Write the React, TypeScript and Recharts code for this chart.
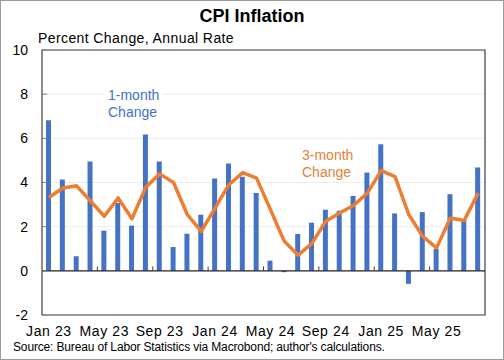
import { ComposedChart, Bar, Line, XAxis, YAxis, CartesianGrid, ReferenceLine, ReferenceArea } from 'recharts'

const months = [
  'Jan 23', 'Feb 23', 'Mar 23', 'Apr 23', 'May 23', 'Jun 23', 'Jul 23', 'Aug 23', 'Sep 23', 'Oct 23', 'Nov 23', 'Dec 23',
  'Jan 24', 'Feb 24', 'Mar 24', 'Apr 24', 'May 24', 'Jun 24', 'Jul 24', 'Aug 24', 'Sep 24', 'Oct 24', 'Nov 24', 'Dec 24',
  'Jan 25', 'Feb 25', 'Mar 25', 'Apr 25', 'May 25', 'Jun 25', 'Jul 25', 'Aug 25',
]

// 1-month change, annualized (bars)
const oneMonth = [
  6.82, 4.14, 0.66, 4.95, 1.82, 3.07, 2.05, 6.17, 4.95, 1.08, 1.68, 2.54,
  4.18, 4.86, 4.26, 3.53, 0.46, -0.06, 1.67, 2.18, 2.77, 2.72, 3.39, 4.45,
  5.73, 2.6, -0.59, 2.66, 1.0, 3.47, 2.3, 4.68,
]

// 3-month change, annualized (line)
const threeMonth = [
  3.32, 3.75, 3.85, 3.16, 2.47, 3.3, 2.36, 3.79, 4.39, 4.0, 2.54, 1.79,
  2.84, 3.9, 4.45, 4.2, 2.77, 1.34, 0.71, 1.24, 2.25, 2.62, 2.96, 3.52,
  4.54, 4.27, 2.54, 1.56, 1.04, 2.39, 2.28, 3.52,
]

const yTicks = [-2, 0, 2, 4, 6, 8, 10]

const data = months.map((m, i) => ({ month: m, idx: i, m1: oneMonth[i], m3: threeMonth[i] }))

// small tick marks on the zero line, between categories before each label
const zeroTicks = months.map((_, i) => i).filter((i) => i > 0 && i % 4 === 0).map((i) => i - 0.5)

const font = '"Liberation Sans", Arial, sans-serif'

export default function App() {
  return (
    <div
      style={{
        position: 'absolute',
        left: 0,
        top: 0,
        width: 504,
        height: 360,
        boxSizing: 'border-box',
        border: '1px solid #9a9a9a',
        background: '#fff',
        fontFamily: font,
      }}
    >
      <div style={{ position: 'absolute', left: 0, top: 5, width: 502, textAlign: 'center', fontSize: 18, fontWeight: 'bold', lineHeight: '20px' }}>
        CPI Inflation
      </div>
      <div style={{ position: 'absolute', left: 37, top: 28, fontSize: 14, letterSpacing: 0.4, lineHeight: '18px' }}>
        Percent Change, Annual Rate
      </div>
      <div style={{ position: 'absolute', left: 12, top: 339, fontSize: 12, letterSpacing: -0.15, lineHeight: '15px' }}>
        Source: Bureau of Labor Statistics via Macrobond; author's calculations.
      </div>
      <div style={{ position: 'absolute', left: -1, top: -1 }}>
        <ComposedChart width={504} height={360} data={data} margin={{ top: 50, right: 19, left: 0, bottom: 15 }}>
          <CartesianGrid horizontal vertical={false} stroke="#ececec" />
          <XAxis
            xAxisId="cat"
            dataKey="month"
            interval={3}
            tickLine={false}
            axisLine={false}
            tickSize={0}
            tickMargin={11}
            height={30}
            tick={{ fontSize: 14, fill: '#000', fontFamily: font, letterSpacing: 0.6 }}
          />
          <XAxis xAxisId="num" dataKey="idx" type="number" domain={[-0.5, 31.5]} hide />
          <YAxis
            domain={[-2, 10]}
            ticks={yTicks}
            width={42}
            interval={0}
            tickSize={-5}
            tickMargin={19}
            axisLine={false}
            tickLine={{ stroke: '#7f7f7f' }}
            tick={{ fontSize: 14, fill: '#000', fontFamily: font }}
          />
          <Bar xAxisId="cat" dataKey="m1" fill="#4472C4" barSize={5} isAnimationActive={false} />
          <Line
            xAxisId="cat"
            dataKey="m3"
            type="linear"
            stroke="#ED7D31"
            strokeWidth={3.5}
            strokeLinejoin="round"
            dot={false}
            activeDot={false}
            isAnimationActive={false}
          />
          <ReferenceLine xAxisId="num" y={0} stroke="#262626" strokeWidth={1.2} />
          {zeroTicks.map((b) => (
            <ReferenceLine
              key={b}
              xAxisId="num"
              segment={[{ x: b, y: 0 }, { x: b, y: 0.2 }]}
              stroke="#404040"
            />
          ))}
          <ReferenceArea xAxisId="num" x1={-0.5} x2={31.5} y1={-2} y2={10} fill="none" stroke="#404040" strokeWidth={1.2} />
        </ComposedChart>
      </div>
      <div style={{ position: 'absolute', left: 104, top: 86, padding: '0 3px', fontSize: 14, lineHeight: '17px', color: '#4472C4', background: '#fff' }}>
        1-month
        <br />
        Change
      </div>
      <div style={{ position: 'absolute', left: 298, top: 146, padding: '0 3px', fontSize: 14, lineHeight: '17px', color: '#E8803A', background: '#fff' }}>
        3-month
        <br />
        Change
      </div>
    </div>
  )
}
